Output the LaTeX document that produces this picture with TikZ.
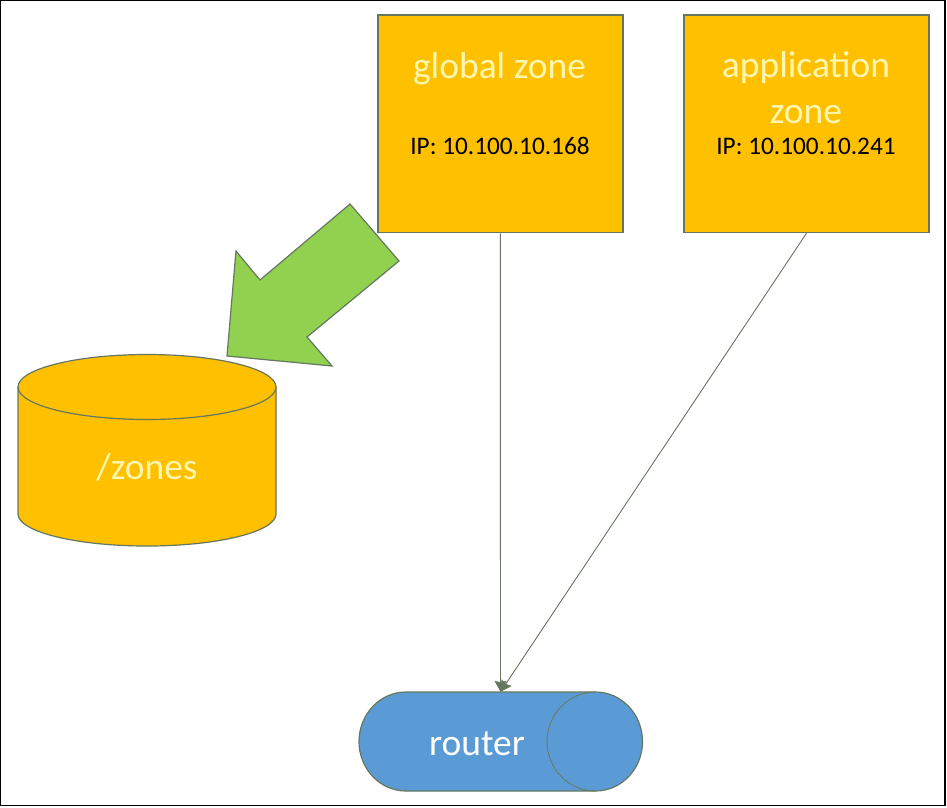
\documentclass[tikz,border=0pt]{standalone}
\usepackage{fontspec}
\setmainfont{Carlito}
\usetikzlibrary{arrows.meta}
\definecolor{edge}{HTML}{66775F}
\definecolor{amber}{HTML}{FFC000}
\definecolor{leaf}{HTML}{92D050}
\definecolor{sky}{HTML}{5B9BD5}
\definecolor{paleText}{HTML}{FFF6B0}
\tikzset{
  zonebox/.style={draw=edge,fill=amber,line width=1.6pt,minimum width=245pt,minimum height=217.5pt,inner sep=0pt},
  shapeline/.style={draw=edge,line width=1.2pt},
  bigtext/.style={anchor=base,font=\fontsize{37.5}{37.5}\selectfont,text=paleText,inner sep=0pt},
  iptext/.style={anchor=base,font=\fontsize{25.3}{25.3}\selectfont,text=black,inner sep=0pt},
  link/.style={draw=edge,line width=0.9pt,-{Stealth[length=11pt,width=12pt,inset=1.5pt]}}
}
\begin{document}
\begin{tikzpicture}[x=1pt,y=-1pt]
\useasboundingbox (0,0) rectangle (947,807);
\fill[white] (0,0) rectangle (947,807);
\draw[black,line width=1.2pt] (0.6,0.6) rectangle (945,805.6);
% zone boxes
\node[zonebox] (global) at (500.3,123.7) {};
\node[zonebox] (app) at (806.5,123.7) {};
\node[bigtext] (globalT) at (499.5,78) {global zone};
\node[iptext] (globalIP) at (500,154.5) {IP: 10.100.10.168};
\node[bigtext] (appT1) at (806,77.5) {application};
\node[bigtext] (appT2) at (806,123) {zone};
\node[iptext] (appIP) at (806,154.5) {IP: 10.100.10.241};
% arrow
\draw[shapeline,fill=leaf,line join=miter] (350,204) -- (399,261) -- (307,337) -- (332,366) -- (227,356) -- (236,251) -- (260,280) -- cycle;
% cylinder
\draw[shapeline,fill=amber] (18,387) -- (18,514) arc[start angle=180,end angle=0,x radius=129,y radius=32] -- (276,387) arc[start angle=0,end angle=-180,x radius=129,y radius=32.5] -- cycle;
\draw[shapeline] (18,387) arc[start angle=180,end angle=0,x radius=129,y radius=32.5];
\node[bigtext] (zonesT) at (147,479) {/zones};
% router
\draw[shapeline,fill=sky] (406,692) -- (595.5,692) arc[start angle=-90,end angle=90,x radius=47,y radius=49.5] -- (406,791) arc[start angle=90,end angle=270,x radius=47,y radius=49.5] -- cycle;
\draw[draw=edge,line width=0.8pt] (595.5,692) arc[start angle=270,end angle=90,x radius=48.5,y radius=49.5];
\node[inner sep=0pt,minimum width=283pt,minimum height=99pt] (router) at (500.5,741.5) {};
\node[bigtext] (routerT) at (477,755.5) {\textcolor{white}{router}};
% connectors
\path[link] (global.south) -- (router.north);
\path[link] (app.south) -- (router.north);
\end{tikzpicture}
\end{document}
